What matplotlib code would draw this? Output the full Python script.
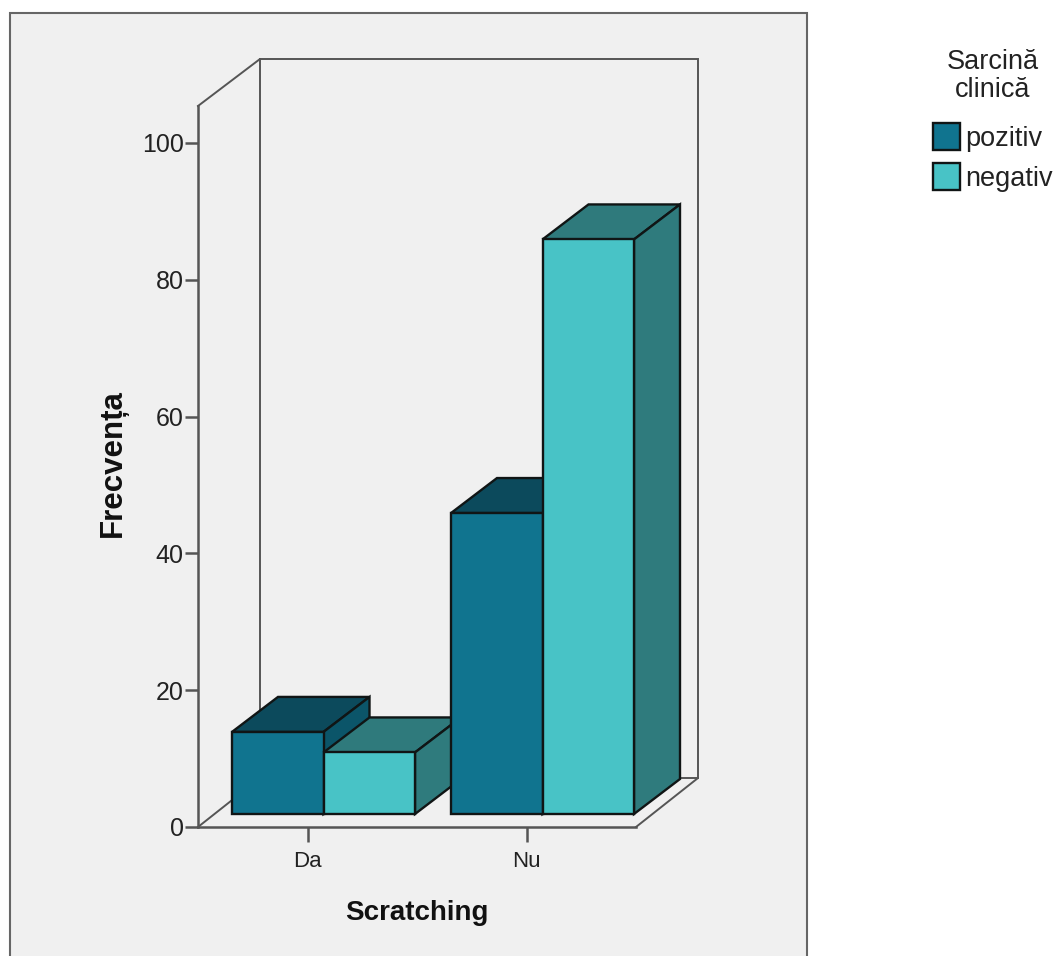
import matplotlib
matplotlib.use("Agg")
import matplotlib.pyplot as plt
from matplotlib.patches import Patch, Rectangle

categories = ["Da", "Nu"]
series_names = ["pozitiv", "negativ"]
pozitiv = [12, 44]
negativ = [9, 84]
yticks = [0, 20, 40, 60, 80, 100]
xlabel = "Scratching"
ylabel = "Frecvența"
legend_title = "Sarcină\nclinică"

W, H = 1056, 956
PX_X = 219.0      # pixels per category
PX_Y = 6.84       # pixels per frequency unit
BAR_W = 91.5 / PX_X
DX = 46 / PX_X    # bar depth
DY = 35 / PX_Y
SHIFT_X = 16 / PX_X   # bars stand inside the floor
SHIFT_Y = 13 / PX_Y
WALL_DX = 62 / PX_X
WALL_DY = 49 / PX_Y
WALL_TOP_DY = 47 / PX_Y
LINE = "#555555"
EDGE = "#101515"
FONT = "Liberation Sans"

front = {"pozitiv": "#10748f", "negativ": "#48c3c6"}
top = {"pozitiv": "#0c4a5c", "negativ": "#2f7a7c"}
side = {"pozitiv": "#0b5569", "negativ": "#2f7b7d"}

fig = plt.figure(figsize=(W / 100, H / 100), dpi=100, facecolor="white")
fig.patches.append(Rectangle((10 / W, -0.01), 797 / W, (956 - 13) / H + 0.01,
                             transform=fig.transFigure, facecolor="#f0f0f0",
                             edgecolor="#666666", linewidth=1.5, figure=fig,
                             zorder=-5))

ax = fig.add_axes([198 / W, (H - 827) / H, 438 / W, 721 / H], zorder=2)
ax.patch.set_alpha(0)
ax.set_xlim(-0.5, 1.5)
ymax = 721 / PX_Y
ax.set_ylim(0, ymax)

for s in ("top", "right"):
    ax.spines[s].set_visible(False)
for s in ("left", "bottom"):
    ax.spines[s].set_color(LINE)
    ax.spines[s].set_linewidth(1.8)

# back wall and floor
wall = dict(color=LINE, lw=1.4, clip_on=False, zorder=1, solid_joinstyle="miter")
ax.plot([-0.5, -0.5 + WALL_DX, 1.5 + WALL_DX, 1.5 + WALL_DX, 1.5],
        [ymax, ymax + WALL_TOP_DY, ymax + WALL_TOP_DY, WALL_DY, 0], **wall)
ax.plot([-0.5 + WALL_DX, -0.5 + WALL_DX, 1.5 + WALL_DX],
        [ymax + WALL_TOP_DY, WALL_DY, WALL_DY], **wall)
ax.plot([-0.5, -0.5 + WALL_DX], [0, WALL_DY], **wall)

# bars, drawn from left to right
z = 3
for i, cat in enumerate(categories):
    for name, vals, off in (("pozitiv", pozitiv, -1), ("negativ", negativ, 0)):
        x0 = i + SHIFT_X + off * BAR_W
        x1 = x0 + BAR_W
        v = vals[i]
        b = SHIFT_Y
        t = b + v
        style = dict(edgecolor=EDGE, linewidth=1.7, clip_on=False, zorder=z,
                     joinstyle="miter")
        ax.fill([x0, x1, x1 + DX, x0 + DX], [t, t, t + DY, t + DY],
                facecolor=top[name], **style)
        ax.fill([x1, x1 + DX, x1 + DX, x1], [b, b + DY, t + DY, t],
                facecolor=side[name], **style)
        ax.bar(x0, v, BAR_W, bottom=b, align="edge", facecolor=front[name],
               edgecolor=EDGE, linewidth=1.7, clip_on=False, zorder=z)
        z += 1

ax.set_yticks(yticks)
ax.set_xticks(range(len(categories)))
ax.set_xticklabels(categories, family=FONT, fontsize=16, color="#222222")
ax.set_yticklabels([str(t) for t in yticks], family=FONT, fontsize=18, color="#222222")
ax.tick_params(axis="y", length=9.4, width=1.8, color=LINE, pad=1)
ax.tick_params(axis="x", length=10.5, width=1.8, color=LINE, pad=7)

fig.text(417 / W, 1 - 913 / H, xlabel, family=FONT, fontweight="bold",
         fontsize=20, ha="center", va="center", color="#111111")
fig.text(113 / W, 1 - 463 / H, ylabel, family=FONT, fontweight="bold",
         fontsize=22.5, rotation=90, ha="center", va="center", color="#111111")

fig.text(992.5 / W, 1 - 76 / H, legend_title, family=FONT, fontsize=19.5,
         ha="center", va="center", linespacing=1.12, color="#222222")

handles = [Patch(facecolor=front[n], edgecolor=EDGE, linewidth=1.7) for n in series_names]
leg = fig.legend(handles, series_names, frameon=False,
                 loc="upper left", bbox_to_anchor=(933 / W, 1 - 123 / H),
                 borderpad=0, borderaxespad=0, handlelength=1.0, handleheight=1.15,
                 handletextpad=0.18, labelspacing=0.42,
                 prop={"family": FONT, "size": 19.5})
for t in leg.get_texts():
    t.set_color("#222222")

fig.savefig("out.png", dpi=100, facecolor="white")
